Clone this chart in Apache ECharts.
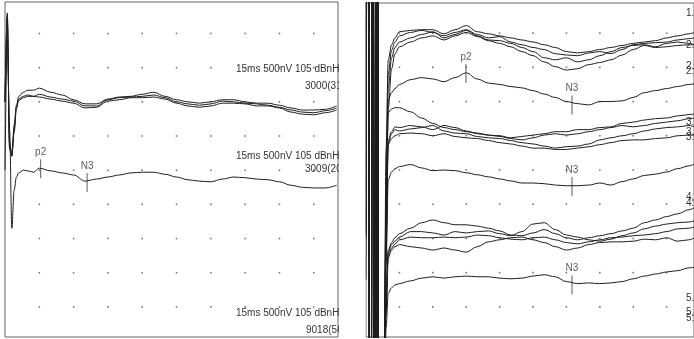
<!DOCTYPE html>
<html><head><meta charset="utf-8">
<script src="https://cdn.jsdelivr.net/npm/echarts@6/dist/echarts.min.js"></script>
<style>html,body{margin:0;padding:0;background:#fff;}#c{width:694px;height:339px;}</style>
</head><body><div id="c"></div>
<script>
// ---------- DATA (time in ms, amplitude in µV; grid division = 1.5 ms x 0.5 µV) ----------
const tL = [0,0.1,0.2,0.3,0.4,0.5,0.6,0.8,1.0,1.25,1.5,2,2.5,3,3.5,4,4.5,5,5.5,6,6.5,7,7.5,8,8.5,9,9.5,10,10.5,11,11.5,12,12.5,13,13.5,14,14.5];
// left panel: 3 sweeps (3000) + average (3009)
const leftSweepA = [3.00,4.30,2.30,2.22,2.66,2.95,3.08,3.14,3.17,3.17,3.20,3.14,3.10,3.03,2.97,2.97,3.04,3.07,3.08,3.11,3.14,3.08,3.03,3.00,2.98,3.00,3.03,3.03,3.00,2.98,2.98,2.95,2.91,2.88,2.88,2.89,2.94];
const leftSweepB = [3.00,4.25,2.35,2.20,2.60,2.92,3.04,3.08,3.10,3.08,3.11,3.07,3.04,3.01,2.94,2.94,3.03,3.06,3.07,3.08,3.10,3.06,3.00,2.97,2.95,2.97,3.01,3.00,2.98,2.97,2.95,2.92,2.88,2.85,2.84,2.87,2.91];
const leftSweepC = [3.00,4.20,2.40,2.25,2.55,2.90,3.02,3.06,3.08,3.08,3.07,3.04,3.01,2.98,2.91,2.92,3.01,3.03,3.06,3.06,3.07,3.04,2.98,2.94,2.92,2.94,2.98,2.98,2.97,2.94,2.94,2.91,2.85,2.82,2.81,2.84,2.88];
const leftAverage = [2.00,3.90,2.59,1.15,1.71,1.90,1.96,2.00,1.99,1.97,2.03,1.99,1.96,1.93,1.84,1.87,1.90,1.93,1.96,1.97,1.97,1.94,1.90,1.86,1.84,1.83,1.87,1.90,1.89,1.87,1.86,1.83,1.78,1.75,1.74,1.74,1.78];

const tR = [0,0.1,0.2,0.3,0.4,0.5,0.6,0.7,0.8,0.9,1.0,1.15,1.3,1.5,2,2.5,3,3.5,4,4.5,5,5.5,6,6.5,7,7.5,8,8.5,9,9.5,10,10.5,11,11.5,12,12.5,13,13.5,14,14.5,14.75];
// right panel, group 1
const g1a = [3.99,12,-12,14,-10,12,-12,-8,-2,2.30,3.61,3.83,3.93,4.02,4.04,4.05,4.05,3.99,4.05,4.11,4.02,3.99,3.96,3.93,3.90,3.87,3.83,3.79,3.73,3.71,3.73,3.76,3.79,3.82,3.85,3.87,3.89,3.93,3.96,3.99,4.01];
const g1b = [3.95,10,-14,12,-12,10,-10,-9,-2.5,1.8,3.40,3.75,3.87,3.96,4.01,4.04,4.01,3.96,4.01,4.05,3.98,3.93,3.95,3.87,3.83,3.79,3.76,3.70,3.68,3.67,3.71,3.73,3.70,3.76,3.83,3.85,3.86,3.87,3.90,3.92,3.93];
const g1c = [3.9,14,-10,10,-14,14,-10,-12,-3,1.5,3.20,3.64,3.79,3.87,3.93,3.98,4.02,3.93,3.98,4.04,3.96,3.90,3.89,3.85,3.79,3.73,3.64,3.61,3.64,3.58,3.61,3.67,3.73,3.79,3.82,3.83,3.80,3.85,3.87,3.85,3.83];
const g1d = [3.85,9,-11,13,-9,11,-13,-10,-2,1.2,2.90,3.48,3.70,3.80,3.87,3.93,3.96,3.90,3.96,4.01,3.95,3.89,3.85,3.80,3.73,3.67,3.58,3.51,3.46,3.48,3.54,3.57,3.61,3.68,3.76,3.82,3.79,3.80,3.82,3.83,3.83];
const avg1 = [3.3,11,-11,12,-12,12,-11,-10,-2.5,0.9,3.03,3.13,3.19,3.25,3.32,3.35,3.33,3.29,3.35,3.42,3.33,3.27,3.25,3.22,3.20,3.16,3.11,3.06,3.00,2.97,2.95,3.00,3.00,3.01,3.06,3.13,3.16,3.19,3.22,3.25,3.26];
// group 2
const g2e = [2.6,12,-12,11,-13,13,-12,-10,-2,1.5,2.84,2.89,2.91,2.91,2.85,2.76,2.68,2.62,2.59,2.56,2.54,2.51,2.49,2.46,2.44,2.47,2.51,2.53,2.51,2.53,2.56,2.59,2.62,2.65,2.63,2.65,2.68,2.70,2.72,2.75,2.76];
const g2f = [2.5,10,-13,13,-11,11,-14,-9,-3,1.2,2.44,2.56,2.63,2.62,2.65,2.63,2.59,2.65,2.62,2.57,2.53,2.51,2.50,2.47,2.49,2.51,2.53,2.56,2.56,2.59,2.59,2.62,2.63,2.68,2.70,2.73,2.75,2.76,2.79,2.81,2.82];
const g2g = [2.45,13,-11,12,-12,12,-11,-11,-2,1.0,2.40,2.53,2.59,2.57,2.60,2.62,2.65,2.57,2.54,2.53,2.49,2.47,2.46,2.43,2.40,2.38,2.35,2.32,2.34,2.35,2.38,2.44,2.47,2.50,2.53,2.57,2.60,2.62,2.63,2.65,2.63];
const g2h = [2.4,11,-12,14,-10,13,-12,-12,-2.5,0.8,2.37,2.46,2.50,2.53,2.54,2.53,2.50,2.53,2.49,2.47,2.46,2.43,2.40,2.38,2.35,2.32,2.32,2.30,2.30,2.32,2.34,2.37,2.40,2.43,2.44,2.44,2.46,2.47,2.50,2.51,2.51];
const avg2 = [2.0,12,-12,12,-11,12,-12,-11,-3,0.6,1.86,1.97,2.02,2.05,2.08,2.03,1.99,2.00,1.99,1.96,1.93,1.90,1.87,1.84,1.81,1.81,1.80,1.78,1.77,1.77,1.78,1.81,1.78,1.83,1.87,1.92,1.94,1.97,2.02,2.06,2.09];
// group 3
const g3i = [1.2,12,-12,12,-12,12,-12,-10,-2,0.2,0.83,0.94,1.01,1.07,1.15,1.23,1.27,1.23,1.20,1.20,1.18,1.15,1.11,1.05,1.04,1.08,1.13,1.07,1.01,0.98,1.01,1.04,1.07,1.11,1.15,1.23,1.27,1.32,1.36,1.42,1.45];
const g3j = [1.1,10,-13,11,-12,14,-10,-11,-2.5,0.1,0.80,0.91,0.96,1.02,1.10,1.10,1.08,1.05,1.10,1.08,1.10,1.11,1.07,1.04,1.10,1.21,1.23,1.13,1.05,1.02,0.98,0.96,0.99,1.04,1.08,1.14,1.18,1.21,1.23,1.24,1.26];
const g3k = [1.05,13,-10,13,-13,11,-13,-12,-3,0.0,0.76,0.86,0.92,0.98,1.02,1.01,1.01,1.02,1.01,1.02,1.05,1.04,1.01,0.99,0.98,1.01,1.02,0.98,0.94,0.92,0.95,0.98,1.01,1.02,1.04,1.05,1.07,1.10,1.14,1.15,1.17];
const g3l = [1.0,11,-11,10,-14,12,-11,-13,-2,-0.1,0.72,0.83,0.88,0.91,0.88,0.86,0.83,0.86,0.83,0.80,0.88,0.95,0.98,1.01,1.02,0.98,0.94,0.88,0.83,0.86,0.91,0.94,0.95,0.95,0.96,0.99,0.98,1.01,0.96,0.98,1.01];
const avg3 = [0.4,12,-12,12,-12,12,-12,-12,-3,-0.3,0.20,0.28,0.32,0.34,0.38,0.42,0.44,0.42,0.44,0.45,0.44,0.44,0.42,0.41,0.42,0.45,0.47,0.44,0.37,0.34,0.35,0.34,0.35,0.37,0.41,0.45,0.48,0.51,0.53,0.57,0.58];

// peak markers
const markNamesL = ['p2','N3'];
const markTimesL = [1.56, 3.59];
const markLevelsL = [2.02, 1.82];
const markNamesR = ['p2','N3','N3','N3'];
const markTimesR = [4.49, 9.25, 9.25, 9.25];
const markLevelsR = [3.41, 2.95, 1.76, 0.32];

// grid dot ticks
const dotTimes = [1.5,3,4.5,6,7.5,9,10.5,12,13.5];
const dotLevels = [0,0.5,1,1.5,2,2.5,3,3.5,4];

// texts
const leftTexts = ['15ms 500nV 105 dBnHL','3000(31)','15ms 500nV 105 dBnHL','3009(20)','15ms 500nV 105 dBnHL','9018(56)'];
const rightTexts = ['1.','2.','2.','2:','3.','3.','3:','4.','4:','5.','5.','5:'];

// ---------- LAYOUT ----------
const leftTextPos = [[236,69],[305,86],[236,156],[305,169],[236,313],[306,330]];
const rightTextPos = [[686,13],[686,45],[686,66],[686,71],[686,122],[686,132],[686,137],[686,197],[686,203],[686,298],[686,312],[686,318]];
const FONT = '"Liberation Sans", Arial, sans-serif';
const INK = '#1e1e1e';

function trace(times, vals, g){
  return {type:'line', xAxisIndex:g, yAxisIndex:g,
    data: times.map((t,i)=>[t, vals[i]]),
    showSymbol:false, symbol:'none', smooth:0.35, smoothMonotone:'x',
    lineStyle:{color:INK, width:1}, silent:true, animation:false, z:3, clip:true};
}
function dots(g){
  const d=[]; dotTimes.forEach(t=>dotLevels.forEach(v=>d.push([t,v])));
  return {type:'scatter', xAxisIndex:g, yAxisIndex:g, data:d, symbol:'rect', symbolSize:1.6,
    itemStyle:{color:'#555'}, silent:true, animation:false, z:1};
}
function marks(names, times, levels, g){
  return {type:'scatter', xAxisIndex:g, yAxisIndex:g,
    data: names.map((n,i)=>({name:n, value:[times[i], levels[i]]})),
    symbol:'rect', symbolSize:[1,19], itemStyle:{color:'#333'},
    label:{show:true, position:'top', distance:2, formatter:'{b}', fontSize:10, fontFamily:FONT, color:'#333'},
    silent:true, animation:false, z:5};
}

const series = [dots(0), dots(1)];
[leftSweepA,leftSweepB,leftSweepC,leftAverage].forEach(a=>series.push(trace(tL,a,0)));
[g1a,g1b,g1c,g1d,avg1,g2e,g2f,g2g,g2h,avg2,g3i,g3j,g3k,g3l,avg3].forEach(a=>series.push(trace(tR,a,1)));
series.push(marks(markNamesL, markTimesL, markLevelsL, 0));
series.push(marks(markNamesR, markTimesR, markLevelsR, 1));

const graphics = [];
leftTexts.forEach((s,i)=>graphics.push({type:'text', z:10, x:leftTextPos[i][0], y:leftTextPos[i][1],
  style:{text:s, font:'10px '+FONT, fill:'#333', verticalAlign:'middle', textVerticalAlign:'middle'}}));
graphics.push({type:'rect', z:20, shape:{x:339, y:0, width:26.5, height:339}, style:{fill:'#fff'}});
rightTexts.forEach((s,i)=>graphics.push({type:'text', z:10, x:rightTextPos[i][0], y:rightTextPos[i][1],
  style:{text:s, font:'10px '+FONT, fill:'#333', verticalAlign:'middle', textVerticalAlign:'middle'}}));

const chart = echarts.init(document.getElementById('c'), null, {renderer:'canvas'});
chart.setOption({
  animation:false,
  backgroundColor:'#fff',
  textStyle:{fontFamily:FONT},
  grid:[
    {left:5, top:2, width:333, height:335, show:true, borderColor:'#666', borderWidth:1, backgroundColor:'rgba(0,0,0,0)'},
    {left:366, top:3, width:328, height:334, show:true, borderColor:'#666', borderWidth:1, backgroundColor:'rgba(0,0,0,0)'}
  ],
  xAxis:[
    {gridIndex:0, type:'value', min:0, max:14.56, show:false},
    {gridIndex:1, type:'value', min:0, max:14.73, show:false}
  ],
  yAxis:[
    {gridIndex:0, type:'value', min:-0.44, max:4.46, show:false},
    {gridIndex:1, type:'value', min:-0.44, max:4.44, show:false}
  ],
  series: series,
  graphic: graphics
});
</script></body></html>
